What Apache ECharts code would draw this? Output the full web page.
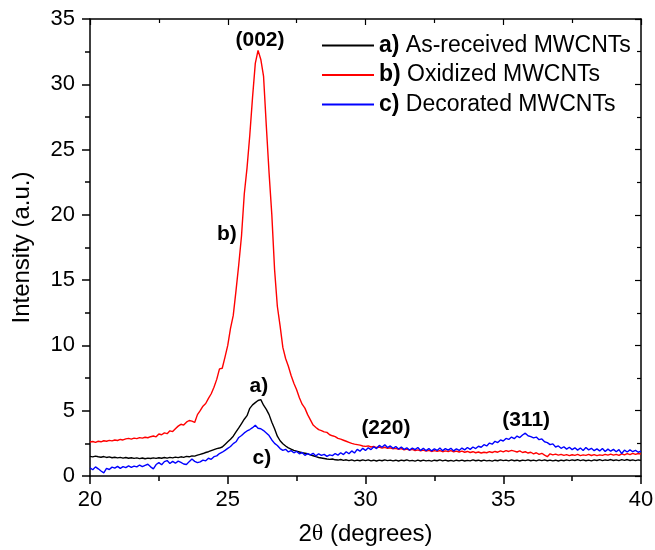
<!DOCTYPE html>
<html>
<head>
<meta charset="utf-8">
<script src="https://cdn.jsdelivr.net/npm/echarts@6/dist/echarts.min.js"></script>
<style>html,body{margin:0;padding:0;background:#fff;}#c{width:655px;height:550px;}</style>
</head>
<body>
<div id="c"></div>
<script>
// Sampling grid of 2-theta (degrees)
const thetaStart = 20;
const thetaStep = 0.1;

const seriesNames = ['a) As-received MWCNTs', 'b) Oxidized MWCNTs', 'c) Decorated MWCNTs'];

// a) As-received MWCNTs
const asReceived = [
1.50,1.46,1.52,1.47,1.44,1.49,1.42,1.46,1.40,1.44,
1.39,1.43,1.37,1.42,1.36,1.40,1.35,1.39,1.33,1.38,
1.32,1.37,1.34,1.39,1.35,1.40,1.36,1.42,1.37,1.43,
1.39,1.45,1.41,1.47,1.43,1.50,1.47,1.54,1.52,1.60,
1.66,1.72,1.80,1.86,1.94,2.02,2.10,2.14,2.22,2.42,
2.62,2.82,3.05,3.38,3.68,4.02,4.35,4.62,5.18,5.45,
5.62,5.78,5.85,5.42,5.10,4.70,4.12,3.62,3.05,2.70,
2.47,2.30,2.16,2.05,1.96,1.90,1.84,1.78,1.74,1.70,
1.62,1.55,1.48,1.42,1.38,1.34,1.30,1.27,1.30,1.24,
1.22,1.26,1.20,1.24,1.18,1.23,1.16,1.22,1.17,1.24,
1.18,1.23,1.16,1.21,1.15,1.22,1.17,1.24,1.18,1.22,
1.16,1.21,1.15,1.22,1.17,1.23,1.16,1.20,1.14,1.21,
1.15,1.22,1.16,1.20,1.14,1.21,1.17,1.23,1.16,1.22,
1.15,1.20,1.14,1.21,1.16,1.22,1.15,1.20,1.16,1.23,
1.17,1.21,1.15,1.22,1.16,1.20,1.14,1.21,1.17,1.24,
1.18,1.22,1.16,1.23,1.17,1.21,1.15,1.22,1.18,1.24,
1.17,1.22,1.16,1.23,1.18,1.24,1.17,1.22,1.16,1.21,
1.15,1.22,1.17,1.23,1.18,1.24,1.19,1.25,1.18,1.23,
1.17,1.22,1.16,1.24,1.19,1.25,1.18,1.23,1.20,1.26,
1.19,1.24,1.18,1.25,1.20,1.26,1.19,1.24,1.18,1.23,
1.20
];

// b) Oxidized MWCNTs
const oxidized = [
2.60,2.64,2.58,2.66,2.62,2.70,2.66,2.73,2.69,2.76,
2.72,2.80,2.76,2.84,2.88,2.82,2.90,2.86,2.94,2.90,
2.97,2.93,3.01,3.06,3.00,3.22,3.16,3.30,3.24,3.46,
3.40,3.62,3.82,3.96,3.90,4.12,4.25,4.20,4.10,4.70,
5.00,5.35,5.55,5.95,6.30,6.80,7.40,8.20,8.25,9.10,
10.0,11.3,12.3,14.2,16.2,18.4,21.6,23.6,26.1,29.0,
31.6,32.6,31.9,30.6,26.8,23.2,20.0,15.8,13.0,11.5,
9.85,9.00,8.40,7.70,7.10,6.60,6.00,5.50,5.20,4.70,
4.30,3.90,3.72,3.55,3.48,3.38,3.34,3.16,3.08,3.02,
2.88,2.82,2.74,2.66,2.58,2.50,2.44,2.40,2.36,2.30,
2.27,2.30,2.22,2.26,2.18,2.22,2.14,2.20,2.12,2.16,
2.08,2.12,2.04,2.10,2.00,2.06,1.98,2.04,1.94,2.00,
1.92,1.98,1.90,1.96,1.88,1.94,1.89,1.95,1.86,1.92,
1.88,1.94,1.85,1.91,1.84,1.90,1.82,1.88,1.80,1.86,
1.78,1.84,1.76,1.82,1.78,1.86,1.80,1.88,1.82,1.92,
1.85,1.94,1.88,1.96,1.90,1.84,1.92,1.80,1.86,1.76,
1.82,1.70,1.78,1.66,1.74,1.60,1.48,1.70,1.62,1.68,
1.60,1.66,1.58,1.64,1.56,1.63,1.58,1.65,1.56,1.62,
1.58,1.66,1.57,1.64,1.56,1.62,1.58,1.66,1.60,1.68,
1.60,1.66,1.58,1.70,1.62,1.72,1.64,1.74,1.66,1.72,
1.68
];

// c) Decorated MWCNTs
const decorated = [
0.62,0.48,0.70,0.55,0.38,0.24,0.58,0.50,0.68,0.60,
0.74,0.58,0.72,0.64,0.78,0.66,0.76,0.70,0.84,0.72,
0.82,0.90,0.70,0.55,0.88,1.02,0.86,1.10,1.18,0.96,
1.12,0.98,1.14,1.04,0.92,0.88,1.10,1.30,1.12,1.02,
1.08,1.22,1.16,1.36,1.28,1.48,1.54,1.72,1.82,1.96,
2.12,2.26,2.48,2.62,2.95,3.10,3.30,3.45,3.56,3.70,
3.88,3.66,3.62,3.48,3.30,3.10,2.76,2.50,2.34,2.10,
1.96,2.04,1.84,1.94,1.78,1.88,1.70,1.80,1.58,1.72,
1.62,1.74,1.54,1.70,1.58,1.66,1.50,1.62,1.56,1.72,
1.60,1.78,1.64,1.86,1.70,1.92,1.76,2.04,1.90,2.12,
1.96,2.16,2.02,2.24,2.10,2.34,2.20,2.40,2.18,2.30,
2.12,2.26,2.06,2.22,2.04,2.16,1.98,2.14,2.02,2.18,
1.96,2.12,1.94,2.10,1.92,2.08,1.96,2.14,1.94,2.10,
1.98,2.12,1.92,2.08,1.96,2.14,2.00,2.18,2.04,2.22,
2.10,2.28,2.20,2.40,2.30,2.52,2.44,2.66,2.56,2.76,
2.68,2.88,2.80,2.98,2.86,3.06,2.94,3.14,3.28,3.08,
3.02,2.92,2.98,2.78,2.84,2.62,2.56,2.40,2.46,2.22,
2.30,2.12,2.24,2.06,2.20,2.02,2.16,1.98,2.14,1.96,
2.18,2.00,2.12,1.94,2.08,1.92,2.10,1.88,2.06,1.90,
2.04,1.86,2.02,1.72,1.98,1.84,2.00,1.86,1.96,1.82,
1.90
];

// Peak annotations: [text, 2theta, intensity]
const annotations = [
  ['(002)', 26.17, 33.4],
  ['b)', 24.97, 18.5],
  ['a)', 26.13, 6.9],
  ['c)', 26.24, 1.4],
  ['(220)', 30.74, 3.64],
  ['(311)', 35.83, 4.25]
];

const xTicks = [20, 25, 30, 35, 40];
const yTicks = [0, 5, 10, 15, 20, 25, 30, 35];

function toPairs(arr) {
  return arr.map((v, i) => [Math.round((thetaStart + i * thetaStep) * 100) / 100, v]);
}

const FONT = '"Liberation Sans", Arial, Helvetica, sans-serif';
const chart = echarts.init(document.getElementById('c'), null, {renderer: 'canvas'});

const axisCommon = {
  splitLine: {show: false},
  minorSplitLine: {show: false}
};

const colors = ['#000000', '#ff0000', '#0000ff'];
const dataSets = [asReceived, oxidized, decorated];

const series = dataSets.map((d, i) => ({
  name: seriesNames[i],
  type: 'line',
  data: toPairs(d),
  symbol: 'none',
  showSymbol: false,
  animation: false,
  lineStyle: {color: colors[i], width: 1.4},
  itemStyle: {color: colors[i]},
  z: i === 1 ? 2 : (i === 2 ? 4 : 3)
}));

series[0].markPoint = {
  symbol: 'circle',
  symbolSize: 0,
  animation: false,
  silent: true,
  label: {
    show: true,
    position: 'inside',
    formatter: '{b}',
    color: '#000',
    fontFamily: FONT,
    fontWeight: 'bold',
    fontSize: 21
  },
  data: annotations.map(a => ({name: a[0], coord: [a[1], a[2]]}))
};

const option = {
  backgroundColor: '#ffffff',
  animation: false,
  textStyle: {fontFamily: FONT},
  grid: {left: 90, right: 14, top: 19, bottom: 74, outerBoundsMode: 'none', containLabel: false},
  legend: {
    orient: 'vertical',
    left: 317,
    top: 29,
    icon: 'rect',
    itemWidth: 52,
    itemHeight: 2,
    itemGap: 6.5,
    data: seriesNames,
    textStyle: {
      fontFamily: FONT, fontSize: 23, color: '#000', lineHeight: 22,
      rich: {b: {fontWeight: 'bold', fontFamily: FONT, fontSize: 23, color: '#000'}}
    },
    formatter: function (name) {
      const idx = name.indexOf(')');
      return '{b|' + name.slice(0, idx + 1) + '}' + name.slice(idx + 1);
    }
  },
  xAxis: [
    Object.assign({}, axisCommon, {
      type: 'value', min: xTicks[0], max: xTicks[xTicks.length - 1], interval: 5,
      position: 'bottom',
      axisLine: {show: true, onZero: false, lineStyle: {color: '#000', width: 1.5}},
      axisTick: {show: true, inside: false, length: 8, lineStyle: {color: '#000', width: 1.5}},
      minorTick: {show: true, splitNumber: 2, length: 5, lineStyle: {color: '#000', width: 1.5}},
      axisLabel: {color: '#000', fontSize: 22, fontFamily: FONT, margin: 13},
      name: '2{t|θ} (degrees)',
      nameLocation: 'middle',
      nameGap: 46,
      nameTextStyle: {
        color: '#000', fontSize: 24, fontFamily: FONT,
        rich: {t: {fontFamily: '"Liberation Serif", "Times New Roman", serif', fontSize: 24, color: '#000'}}
      }
    }),
    Object.assign({}, axisCommon, {
      type: 'value', min: xTicks[0], max: xTicks[xTicks.length - 1], interval: 5,
      position: 'top',
      axisLine: {show: true, onZero: false, lineStyle: {color: '#000', width: 1.5}},
      axisTick: {show: true, inside: true, length: 6, lineStyle: {color: '#000', width: 1.2}},
      minorTick: {show: true, splitNumber: 2, length: 4, lineStyle: {color: '#000', width: 1.2}},
      axisLabel: {show: false}
    })
  ],
  yAxis: [
    Object.assign({}, axisCommon, {
      type: 'value', min: yTicks[0], max: yTicks[yTicks.length - 1], interval: 5,
      position: 'left',
      axisLine: {show: true, onZero: false, lineStyle: {color: '#000', width: 1.5}},
      axisTick: {show: true, inside: false, length: 8, lineStyle: {color: '#000', width: 1.5}},
      minorTick: {show: true, splitNumber: 2, length: 5, lineStyle: {color: '#000', width: 1.5}},
      axisLabel: {color: '#000', fontSize: 22, fontFamily: FONT, margin: 15},
      name: 'Intensity (a.u.)',
      nameLocation: 'middle',
      nameGap: 56,
      nameTextStyle: {color: '#000', fontSize: 24, fontFamily: FONT}
    }),
    Object.assign({}, axisCommon, {
      type: 'value', min: yTicks[0], max: yTicks[yTicks.length - 1], interval: 5,
      position: 'right',
      axisLine: {show: true, onZero: false, lineStyle: {color: '#000', width: 1.5}},
      axisTick: {show: true, inside: true, length: 6, lineStyle: {color: '#000', width: 1.2}},
      minorTick: {show: true, splitNumber: 2, length: 4, lineStyle: {color: '#000', width: 1.2}},
      axisLabel: {show: false}
    })
  ],
  series: series
};

chart.setOption(option);
</script>
</body>
</html>
